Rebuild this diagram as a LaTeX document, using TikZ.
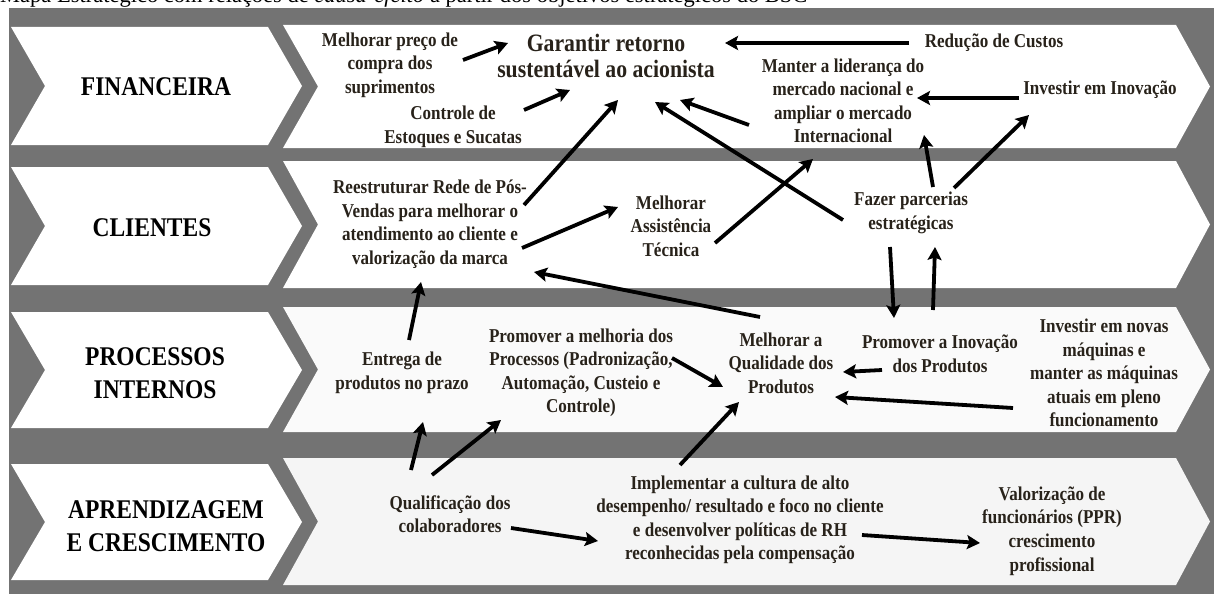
\documentclass[tikz,border=0pt]{standalone}
\usepackage{fontspec}
\setmainfont{Liberation Serif}
\newfontfamily\tallserif{Liberation Serif}[FakeStretch=0.87]
\usetikzlibrary{arrows.meta, calc}
\definecolor{bggray}{RGB}{115,115,115}
\definecolor{ink}{RGB}{40,34,26}
\definecolor{paleA}{RGB}{250,250,250}
\definecolor{paleB}{RGB}{245,245,245}

\begin{document}
\begin{tikzpicture}[x=1pt, y=-1pt,
        persp/.style={align=center, inner sep=0pt, font=\tallserif\fontsize{27}{33}\selectfont\bfseries, text=black},
        obj/.style={align=center, inner sep=0pt, font=\tallserif\fontsize{19.6}{23.5}\selectfont\bfseries, text=ink},
        goal/.style={obj, font=\tallserif\fontsize{25}{25.5}\selectfont\bfseries},
        arr/.style={-{Stealth[length=13pt, width=14pt, inset=2.5pt]}, line width=3.8pt, black}
    ]
        \useasboundingbox (0,0) rectangle (1214,594);
        \fill[bggray] (9,8) rectangle (1214,594);
        \node[anchor=base west, inner sep=0pt, font=\fontsize{22.5}{22.5}\selectfont] (title) at (0,3)
            {Mapa Estratégico com relações de \textit{causa-efeito} a partir dos objetivos estratégicos do BSC};

        % faixas das perspectivas
        \foreach \ctop/\cbot/\btop/\bbot/\bcol in {27/145/25/148/white, 167/285/161/288/white, 312/428/307/432/paleA, 464/580/458/585/paleB}{
            \fill[white] (11,\ctop) -- (268,\ctop) -- (302,{(\ctop+\cbot)/2}) -- (268,\cbot) -- (11,\cbot) -- (45,{(\ctop+\cbot)/2}) -- cycle;
            \fill[\bcol] (283,\btop) -- (1176,\btop) -- (1210,{(\btop+\bbot)/2}) -- (1176,\bbot) -- (283,\bbot) -- (318,{(\btop+\bbot)/2}) -- cycle;
        }

        \node[persp] (fin) at (156,87) {FINANCEIRA};
        \node[persp] (cli) at (152,228) {CLIENTES};
        \node[persp] (pro) at (155,373) {PROCESSOS\\INTERNOS};
        \node[persp] (apr) at (166,526) {APRENDIZAGEM\\E CRESCIMENTO};

        % financeira
        \node[obj] (sup) at (390,65) {Melhorar preço de\\compra dos\\suprimentos};
        \node[goal] (gar) at (606,56) {Garantir retorno\\sustentável ao acionista};
        \node[obj] (red) at (994,43) {Redução de Custos};
        \node[obj] (man) at (843,101) {Manter a liderança do\\mercado nacional e\\ampliar o mercado\\Internacional};
        \node[obj] (inv) at (1100,90) {Investir em Inovação};
        \node[obj] (est) at (453,127) {Controle de\\Estoques e Sucatas};
        % clientes
        \node[obj] (rest) at (430,224) {Reestruturar Rede de Pós-\\Vendas para melhorar o\\atendimento ao cliente e\\valorização da marca};
        \node[obj] (assist) at (671,226) {Melhorar\\Assistência\\Técnica};
        \node[obj] (parc) at (911,213) {Fazer parcerias\\estratégicas};
        % processos internos
        \node[obj] (entr) at (402,373) {Entrega de\\produtos no prazo};
        \node[obj] (proc) at (581,373) {Promover a melhoria dos\\Processos (Padronização,\\Automação, Custeio e\\Controle)};
        \node[obj] (qual) at (781,363) {Melhorar a\\Qualidade dos\\Produtos};
        \node[obj] (inov) at (940,354) {Promover a Inovação\\dos Produtos};
        \node[obj] (maq) at (1104,373) {Investir em novas\\máquinas e\\manter as máquinas\\atuais em pleno\\funcionamento};
        % aprendizagem e crescimento
        \node[obj] (qualif) at (450,514) {Qualificação dos\\colaboradores};
        \node[obj] (impl) at (740,520) {Implementar a cultura de alto\\desempenho/ resultado e foco no cliente\\e desenvolver políticas de RH\\reconhecidas pela compensação};
        \node[obj] (valor) at (1052,531) {Valorização de\\funcionários (PPR)\\crescimento\\profissional};

        % relações de causa-efeito
        \draw[arr] ($(sup)+(73,-5)$) -- ($(gar)+(-98,-13)$);
        \draw[arr] ($(est)+(71,-17)$) -- ($(gar)+(-36,34)$);
        \draw[arr] ($(red)+(-85,0)$) -- ($(gar)+(119,-13)$);
        \draw[arr] ($(man)+(-94,24)$) -- ($(gar)+(74,44)$);
        \draw[arr] ($(inv)+(-81,8)$) -- ($(man)+(74,-3)$);
        \draw[arr] ($(parc)+(-68,7)$) -- ($(gar)+(49,46)$);
        \draw[arr] ($(parc)+(22,-26)$) -- ($(man)+(81,34)$);
        \draw[arr] ($(parc)+(43,-25)$) -- ($(inv)+(-71,25)$);
        \draw[arr] ($(rest)+(94,-19)$) -- ($(gar)+(12,44)$);
        \draw[arr] ($(assist)+(44,17)$) -- ($(man)+(-30,58)$);
        \draw[arr] ($(rest)+(92,24)$) -- ($(assist)+(-53,-19)$);
        \draw[arr] ($(parc)+(-21,34)$) -- ($(inov)+(-46,-36)$);
        \draw[arr] ($(inov)+(-7,-44)$) -- ($(parc)+(24,34)$);
        \draw[arr] ($(qual)+(-21,-46)$) -- ($(rest)+(104,48)$);
        \draw[arr] ($(entr)+(7,-33)$) -- ($(rest)+(-9,58)$);
        \draw[arr] ($(qualif)+(-39,-44)$) -- ($(entr)+(21,49)$);
        \draw[arr] ($(qualif)+(-18,-39)$) -- ($(proc)+(-80,47)$);
        \draw[arr] ($(proc)+(91,-15)$) -- ($(qual)+(-58,24)$);
        \draw[arr] ($(inov)+(-58,16)$) -- ($(qual)+(62,9)$);
        \draw[arr] ($(maq)+(-91,35)$) -- ($(qual)+(54,34)$);
        \draw[arr] ($(impl)+(-60,-55)$) -- ($(qual)+(-42,39)$);
        \draw[arr] ($(qualif)+(61,14)$) -- ($(impl)+(-142,21)$);
        \draw[arr] ($(impl)+(122,15)$) -- ($(valor)+(-72,12)$);
    \end{tikzpicture}
\end{document}
